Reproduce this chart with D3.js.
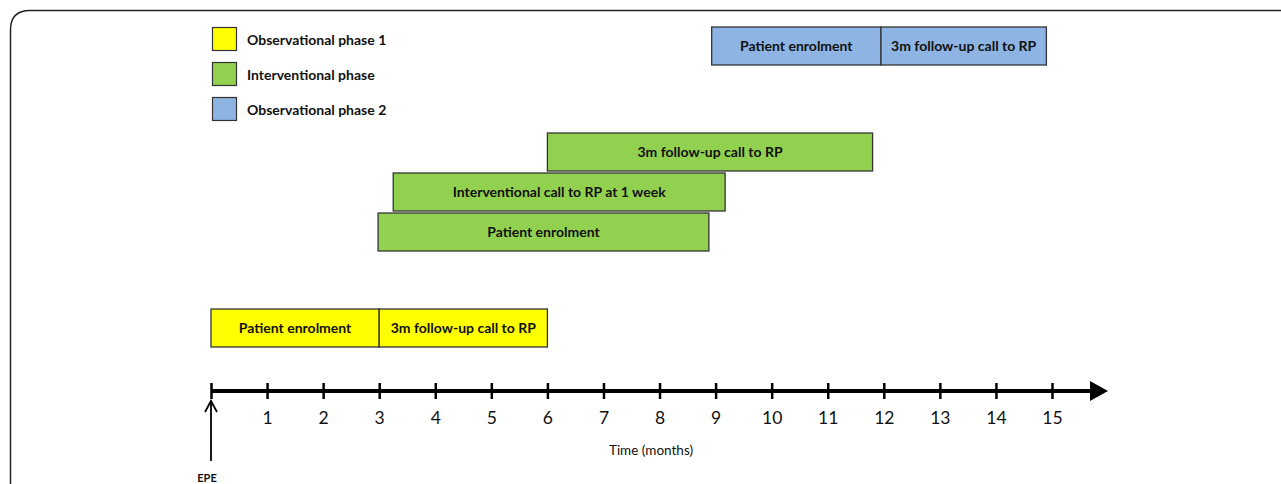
<!DOCTYPE html>
<html><head><meta charset="utf-8">
<script src="https://cdn.jsdelivr.net/npm/d3@7"></script>
<style>body{margin:0;background:#fff;}svg{display:block;}</style>
</head><body>
<svg id="chart" width="1281" height="484"></svg>
<script>
// ---- data ----
const phases = ["Observational phase 1", "Interventional phase", "Observational phase 2"];
const phaseColors = ["#FFFF00", "#92D050", "#8DB4E2"];
const tickValues = [1,2,3,4,5,6,7,8,9,10,11,12,13,14,15];
const taskLabels = ["Patient enrolment", "3m follow-up call to RP",
                    "Patient enrolment", "Interventional call to RP at 1 week", "3m follow-up call to RP",
                    "Patient enrolment", "3m follow-up call to RP"];
const taskPhase = [0,0,1,1,1,2,2];
const taskLane  = [0,0,1,2,3,4,4];
const taskStart = [0, 3, 2.98, 3.25, 6, 8.93, 11.95];
const taskEnd   = [3, 6, 8.88, 9.17, 11.8, 11.95, 14.9];
const axisTitle = "Time (months)";
const originLabel = "EPE";

const tasks = taskLabels.map((l,i)=>({label:l, phase:taskPhase[i], lane:taskLane[i], start:taskStart[i], end:taskEnd[i]}));

const svg = d3.select("#chart");
const x = d3.scaleLinear().domain([0,15]).range([211,1052]);
const laneY = d3.scaleOrdinal().domain([0,1,2,3,4]).range([309,213,173,133,27]);
const barH = 38;
const color = d3.scaleOrdinal().domain([0,1,2]).range(phaseColors);
const font = "Lato, 'Open Sans', sans-serif";

// frame
svg.append("path")
  .attr("d", "M10.5,490 L10.5,30 Q10.5,10.5 30,10.5 L1290,10.5")
  .attr("fill","none").attr("stroke","#222").attr("stroke-width",1.5);

// legend
const lg = svg.append("g");
phases.forEach((p,i)=>{
  lg.append("rect").attr("x",212.5).attr("y",27.5+i*35).attr("width",24).attr("height",23)
    .attr("fill",color(i)).attr("stroke","#333").attr("stroke-width",1.2);
  lg.append("text").attr("x",247).attr("y",44.5+i*35).text(p)
    .attr("font-family",font).attr("font-weight",700).attr("font-size",14).attr("fill","#111");
});

// bars
const bars = svg.append("g").selectAll("g").data(tasks).join("g");
bars.append("rect")
  .attr("x",d=>x(d.start)).attr("y",d=>laneY(d.lane))
  .attr("width",d=>x(d.end)-x(d.start)).attr("height",barH)
  .attr("fill",d=>color(d.phase)).attr("stroke","#333").attr("stroke-width",1.3);
bars.append("text")
  .attr("x",d=>(x(d.start)+x(d.end))/2).attr("y",d=>laneY(d.lane)+barH/2+5)
  .attr("text-anchor","middle").text(d=>d.label)
  .attr("font-family",font).attr("font-weight",700).attr("font-size",14).attr("fill","#111");

// axis
const axisY = 391;
svg.append("line").attr("x1",x(0)).attr("x2",1092).attr("y1",axisY).attr("y2",axisY)
  .attr("stroke","#000").attr("stroke-width",4);
svg.append("path").attr("d",`M1090,${axisY-10} L1108,${axisY} L1090,${axisY+10} Z`).attr("fill","#000");
const axis = d3.axisBottom(x).tickValues([0].concat(tickValues)).tickSize(0).tickFormat(d=>d===0?"":d);
const ag = svg.append("g").attr("transform",`translate(0,${axisY})`).call(axis);
ag.select(".domain").remove();
ag.selectAll(".tick text").attr("dy",0).attr("y",33).attr("font-family",font).attr("font-size",17.5).attr("fill","#111");
ag.selectAll(".tick line").attr("y1",-8).attr("y2",8).attr("stroke","#000").attr("stroke-width",2.5);

svg.append("text").attr("x",651).attr("y",455).attr("text-anchor","middle").text(axisTitle)
  .attr("font-family",font).attr("font-size",13.5).attr("fill","#111");

// EPE arrow
svg.append("line").attr("x1",x(0)).attr("x2",x(0)).attr("y1",461).attr("y2",402)
  .attr("stroke","#000").attr("stroke-width",1.8);
svg.append("path").attr("d",`M${x(0)-6},${412} L${x(0)},${401} L${x(0)+6},${412}`)
  .attr("fill","none").attr("stroke","#000").attr("stroke-width",1.8);
svg.append("text").attr("x",x(0)-4).attr("y",482).attr("text-anchor","middle").text(originLabel)
  .attr("font-family",font).attr("font-weight",700).attr("font-size",11).attr("fill","#111");
</script>
</body></html>
